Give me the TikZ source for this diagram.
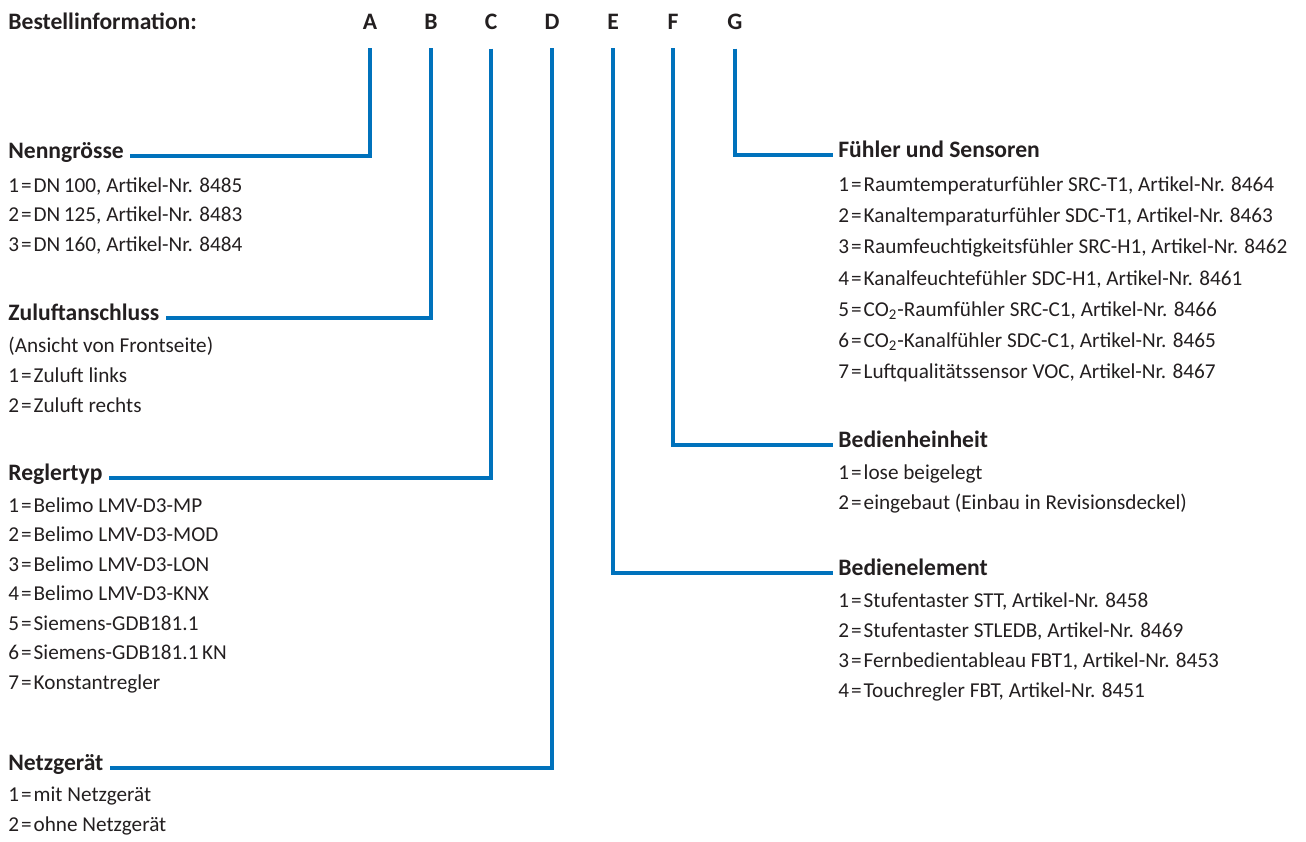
\documentclass[tikz,border=0pt]{standalone}
\usepackage{fontspec}
\setmainfont{Carlito}
\definecolor{leadblue}{RGB}{0,114,188}
\definecolor{ink}{RGB}{35,31,32}
\newcommand{\eqs}{\kern1pt=\kern1pt}
\tikzset{
  head/.style={anchor=base west,inner sep=0pt,font=\fontsize{11.8}{14}\selectfont\bfseries},
  item/.style={anchor=base west,inner sep=0pt},
  letter/.style={anchor=base,inner sep=0pt,font=\fontsize{11.8}{14}\selectfont\bfseries},
  lead/.style={draw=leadblue,line width=2pt},
}

\begin{document}
\begin{tikzpicture}[x=0.5pt,y=-0.5pt,text=ink,font=\fontsize{10.6}{13}\selectfont]
  \useasboundingbox (0,0) rectangle (1306,841);
  % kopfzeile
  \node[head] (title) at (8,29) {Bestellinformation:};
  \foreach \l/\x in {A/370,B/431,C/491,D/552,E/613,F/673,G/735}
    \node[letter] (\l) at (\x,29) {\l};

  % linke seite
  \node[head] (hA) at (8,158) {Nenngrösse};
  \foreach \t [count=\n] in {{DN\,100, Artikel-Nr. 8485},{DN\,125, Artikel-Nr. 8483},{DN\,160, Artikel-Nr. 8484}}
    \node[item] (iA\n) at (8,{162.5+29.5*\n}) {\n\eqs\t};

  \node[head] (hB) at (8,320) {Zuluftanschluss};
  \node[item] (iB0) at (8,352) {(Ansicht von Frontseite)};
  \node[item] (iB1) at (8,382) {1\eqs Zuluft links};
  \node[item] (iB2) at (8,412) {2\eqs Zuluft rechts};

  \node[head] (hC) at (8,480) {Reglertyp};
  \foreach \t [count=\n] in {Belimo LMV-D3-MP,Belimo LMV-D3-MOD,Belimo LMV-D3-LON,Belimo LMV-D3-KNX,Siemens-GDB181.1,Siemens-GDB181.1\,KN,Konstantregler}
    \node[item] (iC\n) at (8,{482.5+29.5*\n}) {\n\eqs\t};

  \node[head] (hD) at (8,770) {Netzgerät};
  \node[item] (iD1) at (8,801) {1\eqs mit Netzgerät};
  \node[item] (iD2) at (8,831) {2\eqs ohne Netzgerät};

  % rechte seite
  \node[head] (hG) at (838,157) {Fühler und Sensoren};
  \foreach \t [count=\n] in {{Raumtemperaturfühler SRC-T1, Artikel-Nr. 8464},{Kanaltemparaturfühler SDC-T1, Artikel-Nr. 8463},{Raumfeuchtigkeitsfühler SRC-H1, Artikel-Nr. 8462},{Kanalfeuchtefühler SDC-H1, Artikel-Nr. 8461},{CO\textsubscript{2}-Raumfühler SRC-C1, Artikel-Nr. 8466},{CO\textsubscript{2}-Kanalfühler SDC-C1, Artikel-Nr. 8465},{Luftqualitätssensor VOC, Artikel-Nr. 8467}}
    \node[item] (iG\n) at (838,{160.6+31.1*\n}) {\n\eqs\t};

  \node[head] (hF) at (838,447) {Bedienheinheit};
  \node[item] (iF1) at (838,479) {1\eqs lose beigelegt};
  \node[item] (iF2) at (838,509) {2\eqs eingebaut (Einbau in Revisionsdeckel)};

  \node[head] (hE) at (838,575) {Bedienelement};
  \foreach \t [count=\n] in {{Stufentaster STT, Artikel-Nr. 8458},{Stufentaster STLEDB, Artikel-Nr. 8469},{Fernbedientableau FBT1, Artikel-Nr. 8453},{Touchregler FBT, Artikel-Nr. 8451}}
    \node[item] (iE\n) at (838,{577+30*\n}) {\n\eqs\t};

  % fuehrungslinien
  \foreach \l in {A,B,C,D}
    \draw[lead] ([yshift=-9.5pt]\l.south) |- ([shift={(3pt,1pt)}]h\l.base east);
  \foreach \l in {E,F,G}
    \draw[lead] ([yshift=-9.5pt]\l.south) |- ([shift={(-2.5pt,1pt)}]h\l.base west);
\end{tikzpicture}
\end{document}
